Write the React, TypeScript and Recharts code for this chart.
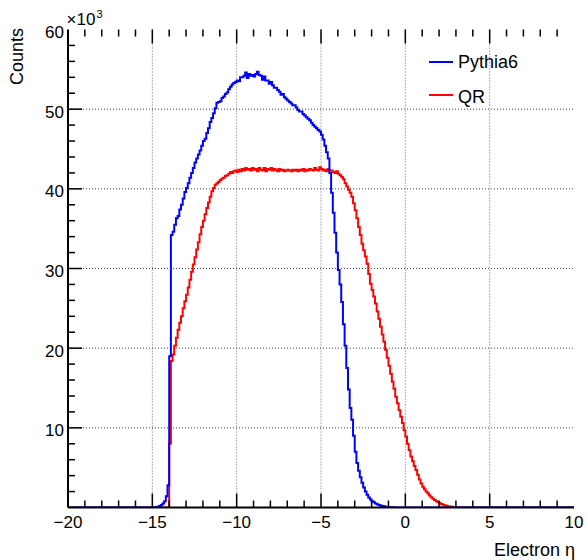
import React from 'react';
import { LineChart, Line, XAxis, YAxis, ReferenceLine } from 'recharts';

// ---------------- data ----------------
// histogram bins: lower edges start at BIN_START, width BIN_WIDTH (eta units)
const BIN_START = -15.0;
const BIN_WIDTH = 0.1;
const X_RANGE = [-20, 10];
const Y_RANGE = [0, 60]; // counts x10^3

const X_LABEL_TICKS = [-20, -15, -10, -5, 0, 5, 10];
const Y_LABEL_TICKS = [10, 20, 30, 40, 50, 60];
const X_MAJOR = [-15, -10, -5, 0, 5];
const X_MINOR = [-19, -18, -17, -16, -14, -13, -12, -11, -9, -8, -7, -6, -4, -3, -2, -1, 1, 2, 3, 4, 6, 7, 8, 9];
const Y_MAJOR = [10, 20, 30, 40, 50];
const Y_MINOR = [2, 4, 6, 8, 12, 14, 16, 18, 22, 24, 26, 28, 32, 34, 36, 38, 42, 44, 46, 48, 52, 54, 56, 58];
const X_GRID = [-15, -10, -5, 0, 5];
const Y_GRID = [10, 20, 30, 40, 50];

// Pythia6 counts (x10^3), bins from -15.0 to 2.9
const PYTHIA6 = [
  0, 0.02, 0.05, 0.1, 0.2, 0.3, 0.5, 0.8, 1.4, 2.8,
  19.0, 34.2, 34.6, 35.5, 36.3, 36.6, 37.4, 38.0, 38.8, 39.6,
  40.1, 40.7, 41.4, 42.0, 42.6, 43.3, 43.8, 44.3, 44.8, 45.4,
  46.0, 46.3, 47.0, 47.6, 48.4, 48.9, 49.5, 50.1, 50.8, 50.9,
  51.0, 51.4, 51.6, 51.9, 52.1, 52.5, 52.8, 53.1, 53.3, 53.4,
  53.6, 53.5, 54.0, 54.0, 54.2, 54.6, 53.9, 54.4, 54.2, 54.3,
  54.1, 54.4, 54.7, 54.3, 54.2, 53.7, 54.1, 53.6, 53.6, 53.2,
  53.4, 53.0, 52.7, 52.7, 52.4, 52.2, 51.8, 51.9, 51.5, 51.3,
  51.1, 50.9, 50.7, 50.5, 50.5, 50.2, 49.9, 49.7, 49.7, 49.4,
  49.2, 49.0, 48.8, 48.6, 48.3, 48.0, 47.8, 47.6, 47.4, 47.2,
  46.8, 46.2, 45.4, 44.6, 43.8, 42.0, 39.5, 37.0, 34.5, 32.0,
  29.8, 28.0, 25.8, 23.0, 20.3, 17.5, 14.8, 12.5, 11.0, 9.0,
  7.0, 5.6, 4.6, 3.8, 3.1, 2.5, 2.0, 1.6, 1.25, 1.0,
  0.8, 0.65, 0.5, 0.4, 0.3, 0.25, 0.2, 0.15, 0.1, 0.07,
  0.05, 0.03, 0.02, 0, 0, 0, 0, 0, 0, 0,
  0, 0, 0, 0, 0, 0, 0, 0, 0, 0,
  0, 0, 0, 0, 0, 0, 0, 0, 0, 0,
  0, 0, 0, 0, 0, 0, 0, 0, 0, 0,
];

// QR counts (x10^3), bins from -15.0 to 2.9
const QR = [
  0, 0, 0, 0, 0, 0, 0, 0, 0, 0,
  8.0, 18.4, 19.2, 20.3, 21.3, 22.3, 23.2, 24.0, 25.0, 25.9,
  26.7, 27.6, 28.6, 29.6, 30.5, 31.4, 32.4, 33.3, 34.3, 35.2,
  36.0, 36.8, 37.6, 38.3, 39.0, 39.7, 40.1, 40.5, 40.7, 40.9,
  41.1, 41.3, 41.4, 41.6, 41.7, 41.9, 42.1, 42.0, 42.2, 42.3,
  42.1, 42.4, 42.2, 42.5, 42.3, 42.6, 42.4, 42.5, 42.3, 42.6,
  42.4, 42.5, 42.2, 42.6, 42.4, 42.3, 42.6, 42.2, 42.5, 42.4,
  42.6, 42.3, 42.5, 42.4, 42.2, 42.5, 42.3, 42.4, 42.2, 42.3,
  42.4, 42.3, 42.2, 42.4, 42.3, 42.4, 42.2, 42.4, 42.3, 42.5,
  42.2, 42.4, 42.3, 42.5, 42.4, 42.3, 42.6, 42.4, 42.3, 42.7,
  42.5, 42.3, 42.4, 42.2, 42.5, 42.3, 42.3, 42.1, 42.0, 42.2,
  41.9, 41.7, 41.5, 41.2, 40.7, 40.3, 39.9, 39.5, 39.0, 38.2,
  37.3, 36.3, 35.2, 34.2, 33.1, 32.3, 31.5, 30.6, 29.3, 28.1,
  27.3, 26.5, 25.6, 24.6, 23.7, 22.7, 21.7, 20.8, 19.8, 18.8,
  17.8, 16.8, 15.8, 14.9, 13.9, 13.1, 12.2, 11.4, 10.6, 9.7,
  8.9, 8.0, 7.2, 6.4, 5.8, 5.2, 4.7, 4.1, 3.5, 3.0,
  2.6, 2.3, 2.0, 1.8, 1.5, 1.3, 1.1, 0.95, 0.8, 0.65,
  0.55, 0.45, 0.35, 0.28, 0.22, 0.17, 0.12, 0.08, 0.05, 0.03,
];

const SERIES_NAMES = ['Pythia6', 'QR'];
const SERIES_COLORS = ['#0000ff', '#ff0000'];

const data: { eta: number; pythia: number; qr: number }[] = [
  { eta: X_RANGE[0], pythia: 0, qr: 0 },
  ...PYTHIA6.map((p, i) => ({
    eta: Math.round((BIN_START + i * BIN_WIDTH) * 10) / 10,
    pythia: p,
    qr: QR[i],
  })),
  { eta: Math.round((BIN_START + PYTHIA6.length * BIN_WIDTH) * 10) / 10, pythia: 0, qr: 0 },
  { eta: X_RANGE[1], pythia: 0, qr: 0 },
];

// ---------------- layout / style ----------------
const W = 587;
const H = 560;
const MARGIN = { top: 29.5, right: 13, bottom: 22.5, left: 0 };
const Y_AXIS_W = 68;
const X_AXIS_H = 30;
const PLOT_LEFT = MARGIN.left + Y_AXIS_W;
const PLOT_TOP = MARGIN.top;
const PLOT_W = W - MARGIN.left - MARGIN.right - Y_AXIS_W;
const PLOT_H = H - MARGIN.top - MARGIN.bottom - X_AXIS_H;
const PLOT_BOTTOM = PLOT_TOP + PLOT_H;
const MAJOR_PX = 14;
const MINOR_PX = 7;
const X_PER_PX = (X_RANGE[1] - X_RANGE[0]) / PLOT_W;
const Y_PER_PX = (Y_RANGE[1] - Y_RANGE[0]) / PLOT_H;
// same linear maps as the chart's axes (used only for the frame tick overlay)
const axisX = (v: number) => PLOT_LEFT + (v - X_RANGE[0]) / X_PER_PX;
const axisY = (v: number) => PLOT_BOTTOM - (v - Y_RANGE[0]) / Y_PER_PX;

const FONT = '"Liberation Sans", Arial, Helvetica, sans-serif';
const fmt = (v: number) => String(v).replace('-', '\u2212');

function BottomLabel(props: any) {
  const { x, y, payload } = props;
  return (
    <text x={x} y={y + 20.5} textAnchor="middle" fontSize={17} fontFamily={FONT} fill="#000">
      {fmt(payload.value)}
    </text>
  );
}

function LeftLabel(props: any) {
  const { x, y, payload } = props;
  return (
    <text x={x - 4} y={y + 8.5} textAnchor="end" fontSize={17} fontFamily={FONT} fill="#000">
      {fmt(payload.value)}
    </text>
  );
}

const abs = (extra: React.CSSProperties): React.CSSProperties => ({
  position: 'absolute',
  fontFamily: FONT,
  color: '#000',
  whiteSpace: 'nowrap',
  ...extra,
});

export default function App() {
  const xTicks = [
    ...X_MAJOR.map((v) => ({ v, len: MAJOR_PX })),
    ...X_MINOR.map((v) => ({ v, len: MINOR_PX })),
  ];
  const yTicks = [
    ...Y_MAJOR.map((v) => ({ v, len: MAJOR_PX })),
    ...Y_MINOR.map((v) => ({ v, len: MINOR_PX })),
  ];
  return (
    <div style={{ position: 'absolute', left: 0, top: 0, width: W, height: H, background: '#fff' }}>
      <LineChart width={W} height={H} data={data} margin={MARGIN}>
        {X_GRID.map((g) => (
          <ReferenceLine key={'gx' + g} x={g} xAxisId="b" yAxisId="l" stroke="#666" strokeWidth={1} strokeDasharray="1 2" />
        ))}
        {Y_GRID.map((g) => (
          <ReferenceLine key={'gy' + g} y={g} xAxisId="b" yAxisId="l" stroke="#444" strokeWidth={1} strokeDasharray="1 2" />
        ))}
        {xTicks.map(({ v, len }) => (
          <ReferenceLine
            key={'tt' + v}
            xAxisId="b"
            yAxisId="l"
            ifOverflow="visible"
            segment={[{ x: v, y: Y_RANGE[1] }, { x: v, y: Y_RANGE[1] - len * Y_PER_PX }]}
            stroke="#000"
            strokeWidth={1.5}
          />
        ))}
        <XAxis
          xAxisId="b"
          dataKey="eta"
          type="number"
          domain={X_RANGE}
          allowDataOverflow
          ticks={X_LABEL_TICKS}
          interval={0}
          tickLine={false}
          tickSize={0}
          tickMargin={0}
          tick={(p: any) => <BottomLabel {...p} />}
          axisLine={{ stroke: '#000', strokeWidth: 2 }}
          height={X_AXIS_H}
        />
        <XAxis
          xAxisId="t"
          orientation="top"
          dataKey="eta"
          type="number"
          domain={X_RANGE}
          allowDataOverflow
          tick={false}
          tickLine={false}
          axisLine={{ stroke: '#000', strokeWidth: 2 }}
          height={0}
        />
        <YAxis
          yAxisId="l"
          type="number"
          domain={Y_RANGE}
          allowDataOverflow
          ticks={Y_LABEL_TICKS}
          interval={0}
          tickLine={false}
          tickSize={0}
          tickMargin={0}
          tick={(p: any) => <LeftLabel {...p} />}
          axisLine={{ stroke: '#000', strokeWidth: 2 }}
          width={Y_AXIS_W}
        />
        <YAxis
          yAxisId="r"
          orientation="right"
          type="number"
          domain={Y_RANGE}
          allowDataOverflow
          tick={false}
          tickLine={false}
          axisLine={{ stroke: '#000', strokeWidth: 1.5 }}
          width={0}
        />
        <Line
          xAxisId="b"
          yAxisId="l"
          type="stepAfter"
          dataKey="qr"
          name={SERIES_NAMES[1]}
          stroke={SERIES_COLORS[1]}
          strokeWidth={2}
          dot={false}
          activeDot={false}
          isAnimationActive={false}
        />
        <Line
          xAxisId="b"
          yAxisId="l"
          type="stepAfter"
          dataKey="pythia"
          name={SERIES_NAMES[0]}
          stroke={SERIES_COLORS[0]}
          strokeWidth={2}
          dot={false}
          activeDot={false}
          isAnimationActive={false}
        />
      </LineChart>

      {/* inward frame ticks on bottom and left edges */}
      <svg
        width={W}
        height={H}
        style={{ position: 'absolute', left: 0, top: 0, pointerEvents: 'none', zIndex: 5 }}
      >
        {xTicks.map(({ v, len }) => (
          <line
            key={'b' + v}
            x1={axisX(v)}
            x2={axisX(v)}
            y1={PLOT_BOTTOM}
            y2={PLOT_BOTTOM - len}
            stroke="#000"
            strokeWidth={1.5}
          />
        ))}
        {yTicks.map(({ v, len }) => (
          <line
            key={'l' + v}
            x1={PLOT_LEFT}
            x2={PLOT_LEFT + len}
            y1={axisY(v)}
            y2={axisY(v)}
            stroke="#000"
            strokeWidth={1.5}
          />
        ))}
      </svg>

      {/* exponent */}
      <div style={abs({ left: 66.5, top: 10.6, fontSize: 17, lineHeight: '17px' })}>×10</div>
      <div style={abs({ left: 96.5, top: 8.7, fontSize: 11, lineHeight: '11px' })}>3</div>

      {/* y title */}
      <div
        style={abs({
          left: 8,
          top: 228,
          width: 200,
          height: 18,
          fontSize: 18,
          lineHeight: '18px',
          textAlign: 'right',
          transformOrigin: '0 0',
          transform: 'rotate(-90deg)',
        })}
      >
        Counts
      </div>

      {/* x title */}
      <div style={abs({ left: 375, top: 540.5, width: 200, fontSize: 18, lineHeight: '18px', textAlign: 'right' })}>
        Electron η
      </div>

      {/* legend */}
      {SERIES_NAMES.map((n, i) => (
        <React.Fragment key={n}>
          <div style={{ position: 'absolute', left: 429, top: i === 0 ? 60.7 : 94, width: 24, height: 2, background: SERIES_COLORS[i] }} />
          <div style={abs({ left: 458, top: i === 0 ? 52.9 : 87.9, fontSize: 18, lineHeight: '18px' })}>{n}</div>
        </React.Fragment>
      ))}
    </div>
  );
}
